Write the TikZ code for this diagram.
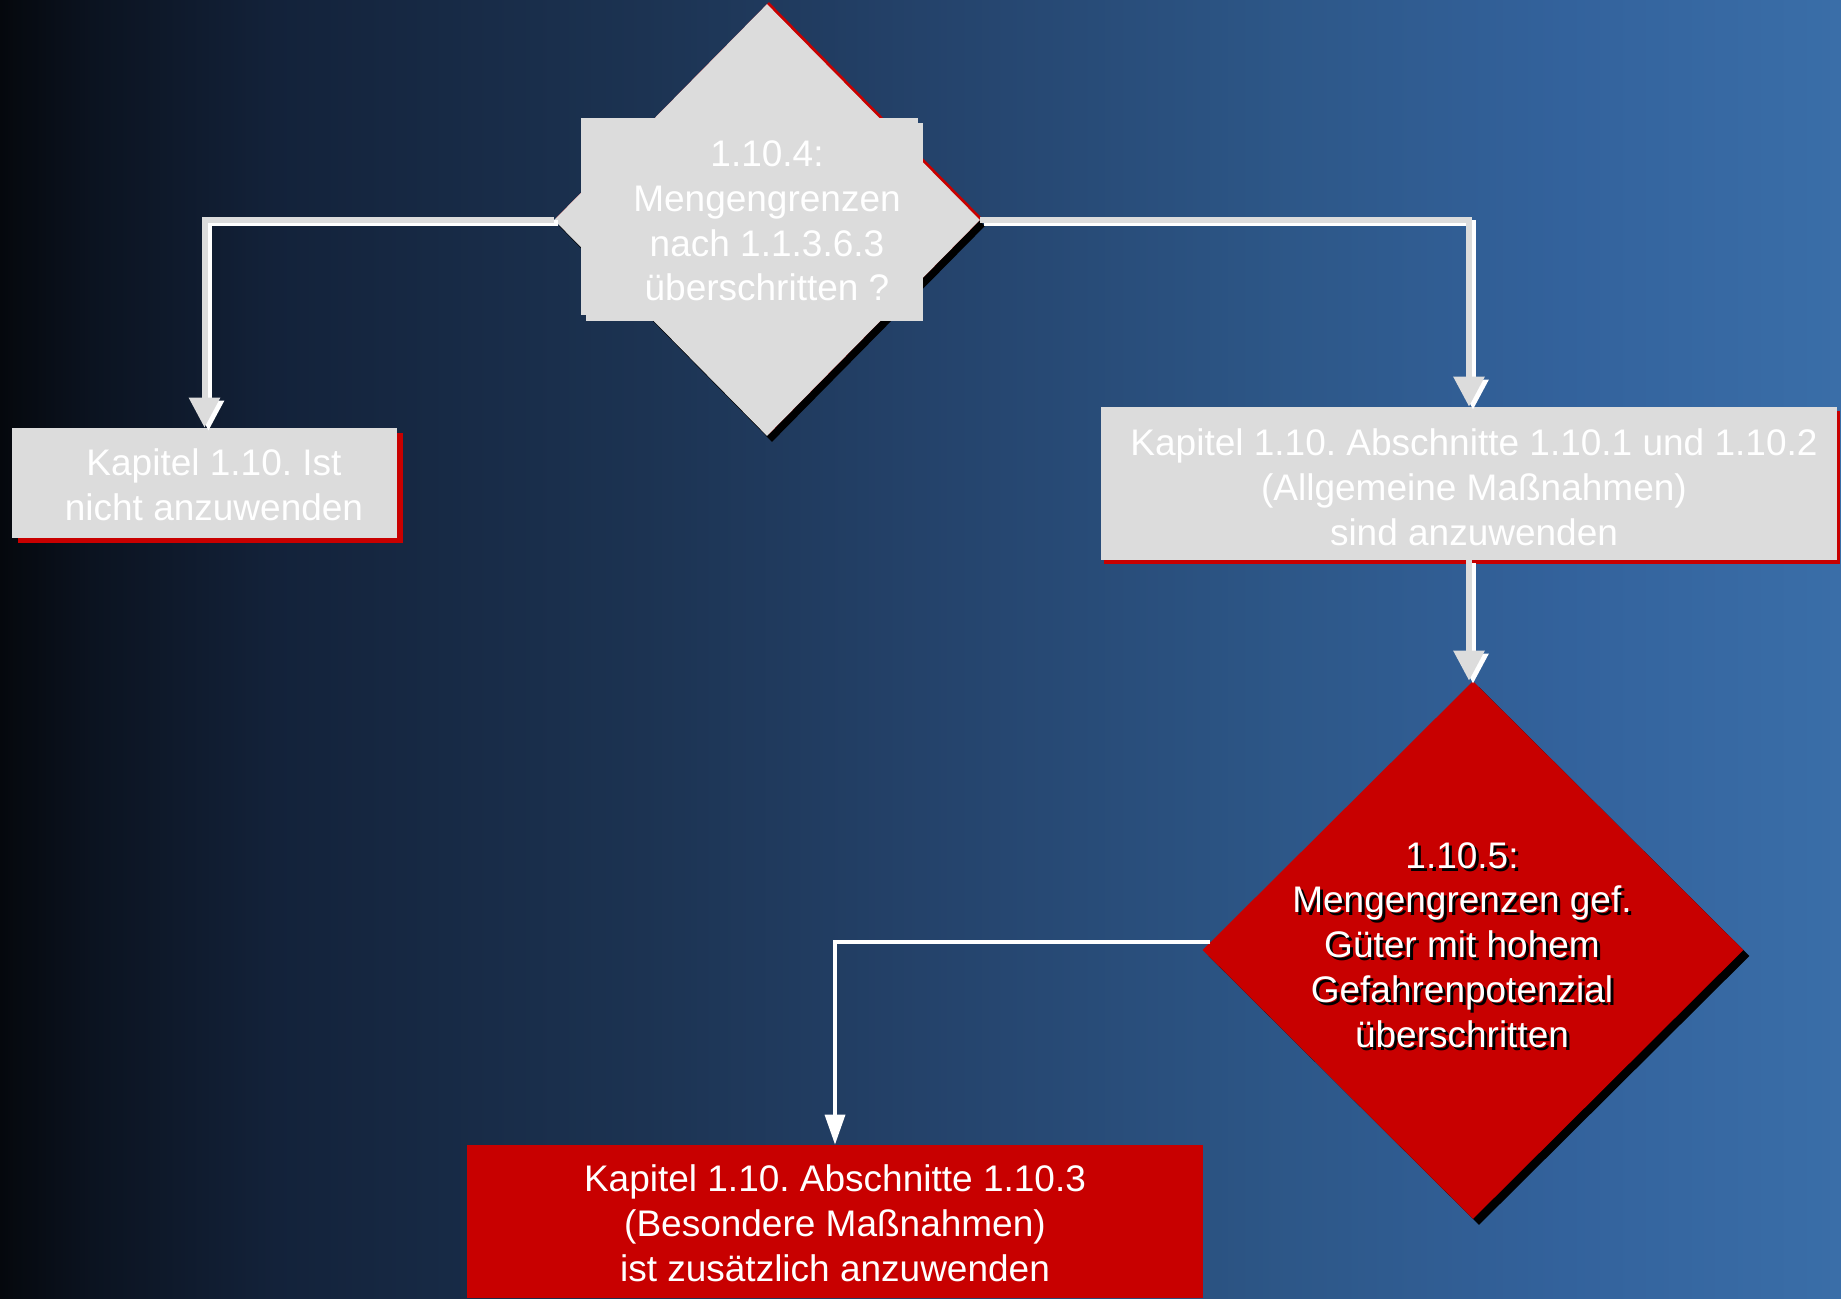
\documentclass[tikz,border=0pt]{standalone}
\usepackage{fontspec}
\setmainfont{Liberation Sans}
\frenchspacing
\usetikzlibrary{shapes.geometric,arrows.meta,shadows,calc}
\definecolor{boxgray}{HTML}{DCDCDC}
\definecolor{boxred}{HTML}{C80000}
\definecolor{bga}{HTML}{05080D}
\definecolor{bgb}{HTML}{0B1320}
\definecolor{bgc}{HTML}{13223A}
\definecolor{bgd}{HTML}{1C3352}
\definecolor{bge}{HTML}{24426A}
\definecolor{bgf}{HTML}{2D5788}
\definecolor{bgg}{HTML}{33629C}
\definecolor{bgh}{HTML}{3A6EA8}
\pgfdeclarehorizontalshading{bgshade}{100bp}{color(0bp)=(bga); color(25bp)=(bga); color(27.5bp)=(bgb); color(32.5bp)=(bgc); color(42.5bp)=(bgd); color(50bp)=(bge); color(60bp)=(bgf); color(67.5bp)=(bgg); color(75bp)=(bgh); color(100bp)=(bgh)}
\tikzset{
  gdiam/.style={diamond, fill=boxgray, inner sep=0pt,
    general shadow={shadow xshift=2.5pt, shadow yshift=-3pt, fill=black},
    general shadow={shadow xshift=1pt, shadow yshift=1pt, fill=boxred}},
  rdiam/.style={diamond, fill=boxred, inner sep=0pt,
    general shadow={shadow xshift=3pt, shadow yshift=-3pt, fill=black}},
  gbox/.style={rectangle, fill=boxgray, inner sep=0pt},
  rbox/.style={rectangle, fill=boxred, inner sep=0pt},
  lbl/.style={align=center, text=white, inner sep=0pt,
    font=\fontsize{18.5pt}{22.4pt}\selectfont},
  shlbl/.style={lbl, text=black},
  gline/.style={draw=boxgray, line width=3pt, -{Triangle[width=15pt,length=15pt]}},
  wline/.style={draw=white, line width=3pt, -{Triangle[width=15pt,length=15pt]},
    transform canvas={xshift=2pt,yshift=-1.5pt}},
  thinline/.style={draw=white, line width=1.7pt, -{Triangle[width=10pt,length=15pt]}}
}
\begin{document}
\begin{tikzpicture}[x=0.5pt,y=-0.5pt]
\useasboundingbox (0,0) rectangle (1841,1298);
\shade[shading=bgshade] (0,0) rectangle (1841,1298);

% upper decision
\node[gdiam, minimum width=213pt, minimum height=216pt] (d1) at (767,220) {};
\node[gbox, minimum width=168.5pt, minimum height=99pt] (r1b) at (754.5,222) {};
\node[gbox, minimum width=168.5pt, minimum height=98.5pt] (r1a) at (749.5,216.5) {};

% boxes
\node[gbox, minimum width=192.5pt, minimum height=55pt,
  general shadow={shadow xshift=3pt, shadow yshift=-2.5pt, fill=boxred}] (b1) at (204.5,483) {};
\node[gbox, minimum width=368pt, minimum height=76.5pt,
  general shadow={shadow xshift=1.5pt, shadow yshift=-2pt, fill=boxred}] (b2) at (1469,483.5) {};
\node[rdiam, minimum width=270.5pt, minimum height=269pt] (d2) at (1473,950) {};
\node[rbox, minimum width=368pt, minimum height=76.5pt] (b3) at (835,1221.5) {};

% texts
\node[lbl] (d1t) at (767,221) {1.10.4:\\Mengengrenzen\\nach 1.1.3.6.3\\überschritten ?};
\node[lbl] (b1t) at (214,485) {Kapitel 1.10. Ist\\nicht anzuwenden};
\node[lbl] (b2t) at (1474,487) {Kapitel 1.10. Abschnitte 1.10.1 und 1.10.2\\(Allgemeine Maßnahmen)\\sind anzuwenden};
\node[shlbl] (d2s) at (1465,948) {1.10.5:\\Mengengrenzen gef.\\Güter mit hohem\\Gefahrenpotenzial\\überschritten};
\node[lbl] (d2t) at (1462,945) {1.10.5:\\Mengengrenzen gef.\\Güter mit hohem\\Gefahrenpotenzial\\überschritten};
\node[lbl] (b3t) at (835,1223.5) {Kapitel 1.10. Abschnitte 1.10.3\\(Besondere Maßnahmen)\\ist zusätzlich anzuwenden};

% connectors
\draw[wline] (d1.west) -| (b1.north);
\draw[gline] (d1.west) -| (b1.north);
\draw[wline] (d1.east) -| (b2.north);
\draw[gline] (d1.east) -| (b2.north);
\draw[wline] (b2.south) -- (b2.south |- d2.north);
\draw[gline] (b2.south) -- (b2.south |- d2.north);
\draw[thinline] ($(d2.west)+(8,-8)$) -| (b3.north);
\end{tikzpicture}
\end{document}
